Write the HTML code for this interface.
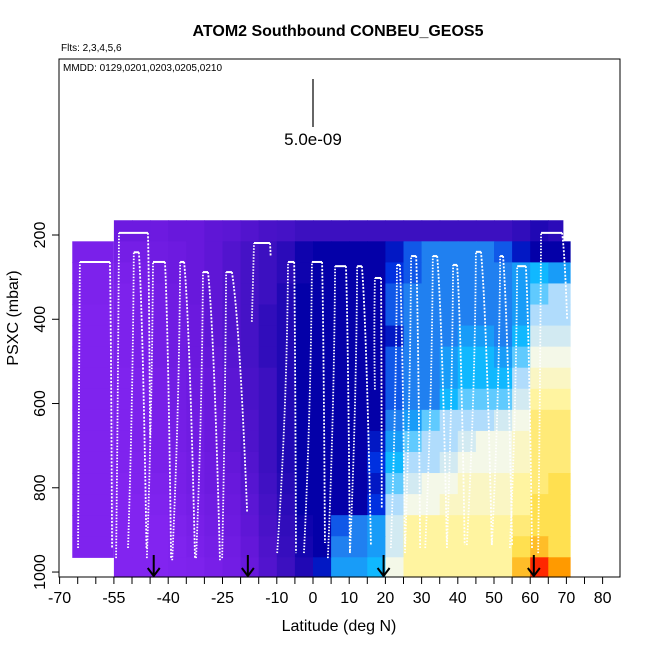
<!DOCTYPE html>
<html><head><meta charset="utf-8"><style>
html,body{margin:0;padding:0;background:#fff;}
svg{display:block;font-family:"Liberation Sans",Arial,sans-serif;}
</style></head><body>
<svg id="chart" width="650" height="650" viewBox="0 0 650 650">
<text x="338" y="36" text-anchor="middle" font-size="16" font-weight="bold">ATOM2 Southbound CONBEU_GEOS5</text>
<text x="61" y="51" font-size="10">Flts: 2,3,4,5,6</text>
<g id="cells"></g>
<g id="leftcells"></g>
<g id="profiles"></g>
<g id="arrows"></g>
<rect x="59" y="59" width="561" height="518" fill="none" stroke="#000" stroke-width="1"/>
<text x="63" y="71" font-size="10">MMDD: 0129,0201,0203,0205,0210</text>
<line x1="313" y1="79" x2="313" y2="127" stroke="#000" stroke-width="1.2"/>
<text x="313" y="145" text-anchor="middle" font-size="17">5.0e-09</text>
<g id="xaxis"></g>
<g id="yaxis"></g>
<text x="339" y="631" text-anchor="middle" font-size="16">Latitude (deg N)</text>
<text transform="translate(18,318) rotate(-90)" text-anchor="middle" font-size="16">PSXC (mbar)</text>
</svg>
<script>
const latBins=[-55,-50,-45,-40,-35,-30,-25,-20,-15,-10,-5,0,5,10,15,20,25,30,35,40,45,50,55,60,65];
const pBands=[165,215,265,315,365,415,465,515,565,615,665,715,765,815,865,915,965,1015];
const r0=[0.8,0.8,0.8,1,1,1.2,1.3,1.5,1.7,1.8,2,2,2,2,2,2,2,2,2,2,2,2,2.2,2.5,2.3];
const r1=[0.5,0.5,0.7,0.8,1,1.2,1.5,1.8,2,2.3,2.8,3,3,3,3,3.5,4.5,5,5,5,5,4.5,3.5,3,3];
const r2=[0.3,0.4,0.6,0.8,1,1.2,1.5,1.8,2,2.3,2.8,3,3,3,3,4,4.5,5,5,5,5,5,5.5,6,5.5];
const r3=[0.2,0.3,0.5,0.7,1,1.2,1.5,1.8,2,2.5,3,3,3,3,3,4.5,5,5,5,5,5,5,5.5,6.5,7];
const r4=[0.2,0.3,0.5,0.7,0.9,1.2,1.5,1.8,2.2,2.5,3,3,3,3,3,4.5,5,5,5,5,5,5,5.5,7,7];
const r5=[0.2,0.3,0.5,0.7,0.9,1.2,1.5,1.8,2.2,2.5,3,3,3,3,3,3.5,5,5,5,5.5,5.5,5,6,7.5,7.5];
const r6=[0.2,0.3,0.5,0.7,0.9,1.1,1.4,1.8,2.2,2.5,3,3,3,3,3,4.5,5,5,5.5,6,6,5.5,6.5,8,8];
const r7=[0.1,0.2,0.4,0.6,0.8,1,1.3,1.7,2,2.5,3,3,3,3,3,4.5,5,5,5.5,6,6,6,7,8.5,8.5];
const r8=[0.1,0.2,0.4,0.6,0.8,1,1.3,1.7,2,2.5,3,3,3,3,3,4.5,5,5,6,6.5,6.5,6.5,7.5,9,9];
const r9=[0.1,0.2,0.3,0.5,0.7,0.9,1.2,1.6,2,2.5,3,3,3,3,3,5,5.5,6.5,7,7,7,7.5,8,9.5,9.5];
const r10=[0.1,0.2,0.3,0.5,0.7,0.9,1.2,1.6,2,2.5,3,3,3,3,3.5,5.5,6.5,7,7,7.5,8,8,8.5,9.5,9.5];
const r11=[0.1,0.1,0.3,0.4,0.6,0.8,1.1,1.5,2,2.5,3,3,3,3,4,6,7,7,7.5,8,8,8,8.5,9.5,9.5];
const r12=[0,0.1,0.2,0.4,0.6,0.8,1,1.4,1.9,2.4,3,3,3,3,3.5,6.5,7.5,8,8,8.5,8.5,8.5,9,9.5,10];
const r13=[0,0,0.1,0.3,0.5,0.7,0.9,1.3,1.8,2.3,3,3,3,3,4,7,8,8,8.5,8.5,8.5,8.5,9,10,10];
const r14=[0,0,0,0.2,0.4,0.6,0.8,1.2,1.7,2.2,2.8,3,4.5,5,5.5,7.5,9,9,9,9,9,9,9.5,10,10];
const r15=[0,0,0,0.1,0.3,0.5,0.7,1.1,1.6,2.1,2.7,3,5,5,5.5,7.5,9,9,9,9,9,9,10,10.5,10];
const r16=[0,0,0,0.1,0.2,0.4,0.6,1,1.5,2,2.5,3.5,5.5,5.5,6,8,9,9,9,9,9,9,10.5,12,11];
const rows=[r0,r1,r2,r3,r4,r5,r6,r7,r8,r9,r10,r11,r12,r13,r14,r15,r16];
const leftBlockVals=[0.3,0.2,0.2,0.1,0.1,0.1,0.1,0.1,0.1,0.1,0.1,0.1,0.1,0.1,0.1];
const profTopL=[-64.4,-53.6,-49.5,-44.2,-36.7,-30.4,-24.0,-16.3,-6.9,-0.3,6.1,12.2,17.1,23.2,27.1,33.1,38.7,45.0,51.7,56.4,63.0];
const profTopR=[-56.1,-45.6,-48.1,-40.9,-35.6,-29.0,-22.4,-11.9,-5.2,2.5,9.1,13.5,18.8,24.0,28.5,34.3,39.8,46.4,52.5,58.8,68.8];
const profTopP=[264,195,241,264,264,288,288,219,264,264,274,274,302,271,250,250,271,240,250,274,195];
const profBotL=[-64.9,-54.4,-51.1,-45.9,-38.9,-32.3,-25.1,-16.9,-9.9,-2.5,4.1,10.2,17.1,21.5,25.4,31.0,37.0,42.5,49.4,54.4,62.2];
const profBotR=[-55.5,-45.0,-46.0,-39.2,-32.6,-25.7,-18.2,-11.7,-4.7,3.3,10.2,16.0,19.0,25.4,29.6,37.0,41.9,49.4,55.0,60.5,70.2];
const profBotPL=[943,967,943,967,972,967,967,406,955,955,967,955,567,943,955,943,936,936,936,943,955];
const profBotPR=[943,685,943,967,967,972,858,250,955,931,955,938,850,943,943,943,936,936,936,943,400];
const arrowLats=[-44,-18,19.5,61];
const xTicks=[-70,-65,-60,-55,-50,-45,-40,-35,-30,-25,-20,-15,-10,-5,0,5,10,15,20,25,30,35,40,45,50,55,60,65,70,75,80];
const xLabels=[-70,-55,-40,-25,-10,0,10,20,30,40,50,60,70,80];
const yTicks=[200,400,600,800,1000];

const NS="http://www.w3.org/2000/svg";
const X=lat=>313+3.62*lat;
const Y=p=>235+(p-200)*0.4213;
const stops=[[0,[130,36,240]],[1,[104,24,220]],[2,[60,16,192]],[3,[4,0,168]],[4,[0,48,224]],[5,[32,128,240]],[6,[16,184,255]],[7,[176,220,252]],[8,[244,248,232]],[9,[255,244,160]],[10,[255,224,80]],[11,[255,154,0]],[12,[255,40,0]]];
function col(v){
  v=Math.max(0,Math.min(12,v));
  let i=Math.min(11,Math.floor(v));const t=v-i;
  const a=stops[i][1],b=stops[i+1][1];
  return 'rgb('+a.map((c,k)=>Math.round(c+(b[k]-c)*t)).join(',')+')';
}
function mk(tag,attrs,parent){const e=document.createElementNS(NS,tag);for(const k in attrs)e.setAttribute(k,attrs[k]);parent.appendChild(e);return e;}
const cells=document.getElementById('cells');
rows.forEach((row,ri)=>{
  row.forEach((v,ci)=>{
    const l0=latBins[ci];let l1=l0+5;
    if(ci===latBins.length-1)l1=ri===0?69:71;
    const x0=X(l0),x1=X(l1),y0=Y(pBands[ri]),y1=Math.min(577,Y(pBands[ri+1]));
    const r=mk('rect',{x:x0,y:y0,width:x1-x0+0.6,height:y1-y0+0.6,fill:col(v)},cells);
    
    
  });
});
const lc=document.getElementById('leftcells');
leftBlockVals.forEach((v,i)=>{
  const x0=X(-66.5),x1=X(-55),y0=Y(pBands[i+1]),y1=Y(pBands[i+2]);
  const r=mk('rect',{x:x0,y:y0,width:x1-x0,height:y1-y0+0.6,fill:col(v)},lc);
  
  
});
const pg=document.getElementById('profiles');
profTopL.forEach((tl,i)=>{
  const xl=X(tl),xr=X(profTopR[i]),yt=Y(profTopP[i]);
  const bl=X(profBotL[i]),br=X(profBotR[i]),ybl=Y(profBotPL[i]),ybr=Y(profBotPR[i]);
  const a=mk('path',{d:`M${bl},${ybl} Q${xl-1},${(ybl+yt)/2} ${xl},${yt}`,fill:'none',stroke:'#fff','stroke-width':1.8,'stroke-dasharray':'1.5 1.5'},pg);
  
  
  const t=mk('path',{d:`M${xl},${yt} L${xr},${yt}`,fill:'none',stroke:'#fff','stroke-width':2},pg);
  
  
  const d=mk('path',{d:`M${xr},${yt} Q${xr+(br-xr)*0.5},${yt+(ybr-yt)*0.2} ${br},${ybr}`,fill:'none',stroke:'#fff','stroke-width':1.8,'stroke-dasharray':'2 1.5'},pg);
  
  
});
const ag=document.getElementById('arrows');
arrowLats.forEach(l=>{
  const x=X(l);
  const g=mk('g',{},ag);
  
  
  mk('line',{x1:x,y1:555,x2:x,y2:575,stroke:'#000','stroke-width':2},g);
  mk('path',{d:`M${x-6},${568} L${x},${576} L${x+6},${568}`,fill:'none',stroke:'#000','stroke-width':2},g);
});
const xa=document.getElementById('xaxis');
xTicks.forEach(t=>{
  const l=mk('line',{x1:X(t),y1:577,x2:X(t),y2:584,stroke:'#000'},xa);
  
  
});
xLabels.forEach(t=>{
  const tx=mk('text',{x:X(t),y:603,'text-anchor':'middle','font-size':16},xa);
  tx.textContent=t;
  
  
});
const ya=document.getElementById('yaxis');
yTicks.forEach(t=>{
  const y=Y(t);
  const l=mk('line',{x1:52,y1:y,x2:59,y2:y,stroke:'#000'},ya);
  
  
  const tx=mk('text',{transform:`translate(45,${y}) rotate(-90)`,'text-anchor':'middle','font-size':16},ya);
  tx.textContent=t;
  
  
});
</script>
</body></html>
